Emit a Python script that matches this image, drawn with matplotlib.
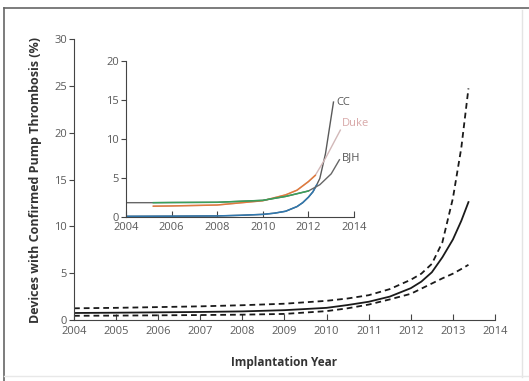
import numpy as np
import matplotlib
matplotlib.use('Agg')
import matplotlib.pyplot as plt
from matplotlib.lines import Line2D

plt.rcParams['font.family'] = ['Open Sans', 'DejaVu Sans']

# pooled estimate with confidence band
years = [2004, 2005, 2006, 2007, 2008, 2009, 2010, 2010.5, 2011, 2011.5,
         2012, 2012.25, 2012.5, 2012.75, 2013, 2013.2, 2013.37]
estimate = [0.75, 0.78, 0.82, 0.86, 0.92, 1.05, 1.3, 1.6, 1.95, 2.5,
            3.4, 4.1, 5.1, 6.7, 8.6, 10.6, 12.6]
upper = [1.25, 1.3, 1.38, 1.46, 1.58, 1.74, 2.05, 2.3, 2.65, 3.3,
         4.3, 4.95, 6.0, 8.3, 13.0, 18.4, 24.75]
lower = [0.45, 0.47, 0.5, 0.53, 0.57, 0.65, 0.95, 1.25, 1.65, 2.2,
         2.8, 3.35, 3.9, 4.45, 4.95, 5.45, 5.9]

# per-center curves for the inset
cc_years = [2004, 2006, 2008, 2009, 2010, 2010.5, 2011, 2011.5, 2011.75, 2012,
            2012.2, 2012.36, 2012.5, 2012.75, 2013.1]
cc_vals = [0.05, 0.07, 0.1, 0.18, 0.3, 0.45, 0.7, 1.3, 1.8, 2.5,
           3.2, 4.06, 4.9, 8.1, 14.7]
duke_years = [2005.2, 2006, 2008, 2010, 2011, 2011.5, 2012, 2012.3, 2012.75, 2013.4]
duke_vals = [1.35, 1.38, 1.5, 2.05, 2.8, 3.4, 4.5, 5.3, 7.5, 11.1]
bjh_years = [2004, 2005.2, 2006, 2008, 2010, 2011, 2012, 2012.5, 2013, 2013.36]
bjh_vals = [1.8, 1.8, 1.82, 1.85, 2.1, 2.6, 3.3, 4.1, 5.5, 7.3]
centers = ['CC', 'Duke', 'BJH']

tick_color = '#5a5a5a'
fig = plt.figure(figsize=(5.29, 3.81), dpi=100)

# thin frame around the panel
fig.add_artist(Line2D([0.008, 0.008], [0.0, 0.978], color='#666666', lw=1.2))
fig.add_artist(Line2D([0.008, 1.0], [0.978, 0.978], color='#666666', lw=1.2))
fig.add_artist(Line2D([0.987, 0.987], [0.01, 0.975], color='#e4e4e4', lw=1.0))
fig.add_artist(Line2D([0.008, 1.0], [0.013, 0.013], color='#e8e8e8', lw=1.0))

ax = fig.add_axes([0.1399, 0.1601, 0.7958, 0.7368])
ax.plot(years, estimate, color='#1a1a1a', lw=1.3)
ax.plot(years, upper, color='#1a1a1a', lw=1.3, ls=(0, (3.2, 2.2)))
ax.plot(years, lower, color='#1a1a1a', lw=1.3, ls=(0, (3.2, 2.2)))
ax.set_xlim(2004, 2014)
ax.set_ylim(0, 30)
ax.set_xticks(range(2004, 2015))
ax.set_yticks(range(0, 31, 5))

ax.set_xlabel('Implantation Year', fontsize=8.5, fontweight='bold', color='#333333', labelpad=14)
ax.set_ylabel('Devices with Confirmed Pump Thrombosis (%)', fontsize=9, fontweight='bold',
              color='#333333', labelpad=9)

inset = fig.add_axes([0.2382, 0.4312, 0.4310, 0.4094])
# colored lower part of each curve, grey where it climbs toward the label
for yrs, vals, col, top_col, cut in [
        (cc_years, cc_vals, '#2f78b0', '#5a5a5a', 2012.36),
        (duke_years, duke_vals, '#e07a3c', '#d2b8b8', 2012.3),
        (bjh_years, bjh_vals, '#3aa05a', '#666666', 2012.36)]:
    yrs = np.array(yrs)
    vals = np.array(vals)
    inset.plot(yrs, vals, color=top_col, lw=1.0)
    low = yrs <= cut
    start = yrs >= 2005.2 if col == '#3aa05a' else np.ones_like(low)
    inset.plot(yrs[low & start], vals[low & start], color=col, lw=1.1)

inset.text(cc_years[-1] + 0.12, cc_vals[-1], centers[0], fontsize=8, color='#555555', va='center')
inset.text(duke_years[-1] + 0.05, duke_vals[-1] + 0.9, centers[1], fontsize=8, color='#d8a8a8', va='center')
inset.text(bjh_years[-1] + 0.1, bjh_vals[-1] + 0.3, centers[2], fontsize=8, color='#555555', va='center')
inset.set_xlim(2004, 2014)
inset.set_ylim(0, 20)
inset.set_xticks(range(2004, 2015, 2))
inset.set_yticks(range(0, 21, 5))
inset.patch.set_alpha(0)

for a in (ax, inset):
    a.spines['top'].set_visible(False)
    a.spines['right'].set_visible(False)
    for s in ('left', 'bottom'):
        a.spines[s].set_color('#444444')
        a.spines[s].set_linewidth(0.8)
    a.tick_params(axis='x', direction='in', length=4, width=0.8, color='#444444',
                  labelsize=8, labelcolor=tick_color, pad=4)
    a.tick_params(axis='y', direction='out', length=3.5, width=0.8, color='#444444',
                  labelsize=8, labelcolor=tick_color, pad=1.5)

fig.savefig('out.png', dpi=100)
